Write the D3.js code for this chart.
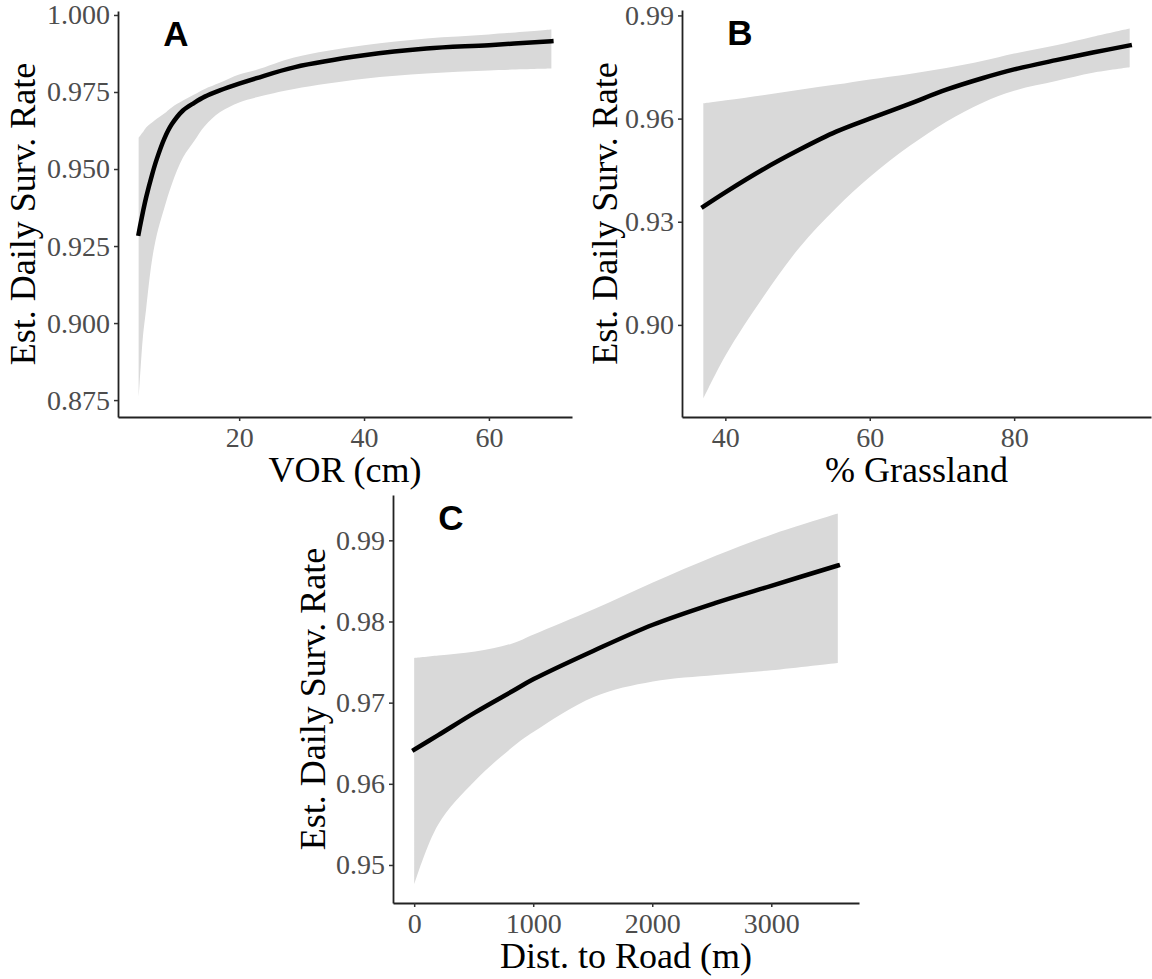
<!DOCTYPE html>
<html>
<head>
<meta charset="utf-8">
<script src="https://cdn.jsdelivr.net/npm/d3@7"></script>
<style>
  body { margin: 0; background: #fff; }
  svg { display: block; }
  .tick text { font-family: "Liberation Serif", "Times New Roman", serif; font-size: 28px; fill: #4d4d4d; }
  .tick line { stroke: #333; stroke-width: 1.5; }
  .domain { stroke: #222; stroke-width: 1.8; }
  .title { font-family: "Liberation Serif", "Times New Roman", serif; font-size: 36px; fill: #000; }
  .tag { font-family: "Liberation Sans", Arial, sans-serif; font-weight: bold; font-size: 35px; fill: #000; }
</style>
</head>
<body>
<div id="chart"></div>
<script>
// A - visual obstruction reading
const vorX   = [3.9, 4.2, 4.6, 5.1, 6.0, 6.8, 8.0, 9.2, 11, 12.8, 14.5, 16.9, 20, 22.8, 28.8, 40, 50, 60, 70];
const vorFit = [0.929, 0.9322, 0.9362, 0.9408, 0.9478, 0.9532, 0.9598, 0.9645, 0.9690, 0.9715, 0.9735, 0.9755, 0.9777, 0.9795, 0.9830, 0.9869, 0.9891, 0.9902, 0.9915];
const vorLo  = [0.8755, 0.885, 0.8959, 0.9046, 0.9199, 0.9286, 0.9373, 0.9450, 0.9537, 0.9591, 0.9640, 0.9684, 0.9716, 0.9733, 0.9760, 0.9793, 0.9810, 0.9820, 0.9826];
const vorHi  = [0.9602, 0.9610, 0.9620, 0.9635, 0.9650, 0.9663, 0.9680, 0.9700, 0.9722, 0.9742, 0.9760, 0.9780, 0.9807, 0.9822, 0.9862, 0.9902, 0.9924, 0.9937, 0.9953];
const vorXTicks = [20, 40, 60];
const vorYTicks = [0.875, 0.900, 0.925, 0.950, 0.975, 1.000];

// B - percent grassland
const grassX   = [36.95, 40.1, 45.2, 50.3, 55.35, 60, 65.5, 70.6, 75.7, 80, 85.8, 90.9, 96.0];
const grassFit = [0.9344, 0.9387, 0.9452, 0.9510, 0.9562, 0.9600, 0.9643, 0.9684, 0.9718, 0.9743, 0.9770, 0.9792, 0.9813];
const grassLo  = [0.8786, 0.8914, 0.9080, 0.9226, 0.9340, 0.9430, 0.9520, 0.9591, 0.9647, 0.9681, 0.9709, 0.9733, 0.9749];
const grassHi  = [0.9644, 0.9653, 0.9668, 0.9684, 0.9699, 0.9714, 0.9730, 0.9747, 0.9768, 0.9789, 0.9813, 0.9838, 0.9862];
const grassXTicks = [40, 60, 80];
const grassYTicks = [0.90, 0.93, 0.96, 0.99];

// C - distance to road
const roadX   = [0, 202, 513, 824, 1004, 1508, 2005, 2533, 3000, 3559];
const roadFit = [0.9642, 0.9660, 0.9688, 0.9714, 0.9729, 0.9764, 0.9796, 0.9823, 0.9844, 0.9869];
const roadLo  = [0.9476, 0.9550, 0.9604, 0.9645, 0.9664, 0.9707, 0.9726, 0.9734, 0.9740, 0.9749];
const roadHi  = [0.9755, 0.9758, 0.9763, 0.9773, 0.9784, 0.9815, 0.9848, 0.9881, 0.9907, 0.9933];
const roadXTicks = [0, 1000, 2000, 3000];
const roadYTicks = [0.95, 0.96, 0.97, 0.98, 0.99];

const yTitle = 'Est. Daily Surv. Rate';

var svg = d3.select('#chart')
    .append('svg')
    .attr('width', 1152)
    .attr('height', 979);

// ggplot-like 5% expansion
function expand(values) {
    var e = d3.extent(values);
    var pad = (e[1] - e[0]) * 0.05;
    return [e[0] - pad, e[1] + pad];
}

function panel(p) {
    var rows = p.xs.map((x, i) => ({ x: x, fit: p.fit[i], lo: p.lo[i], hi: p.hi[i] }));

    var x = d3.scaleLinear()
        .domain(expand(p.xs))
        .range([p.left, p.right]);
    var y = d3.scaleLinear()
        .domain(expand(p.lo.concat(p.hi)))
        .range([p.bottom, p.top]);

    var g = svg.append('g');

    var ribbon = d3.area()
        .x(d => x(d.x))
        .y0(d => y(d.lo))
        .y1(d => y(d.hi))
        .curve(d3.curveCatmullRom);
    g.append('path')
        .attr('d', ribbon(rows))
        .style('fill', '#d9d9d9');

    var line = d3.line()
        .x(d => x(d.x))
        .y(d => y(d.fit))
        .curve(d3.curveCatmullRom);
    g.append('path')
        .attr('d', line(rows))
        .style('fill', 'none')
        .style('stroke', '#000')
        .style('stroke-width', 4.5)
        .style('stroke-linecap', 'square');

    g.append('g')
        .attr('transform', `translate(0,${p.bottom})`)
        .call(d3.axisBottom(x).tickValues(p.xTicks).tickFormat(d3.format('d'))
            .tickSize(4).tickSizeOuter(0).tickPadding(6));
    g.append('g')
        .attr('transform', `translate(${p.left},0)`)
        .call(d3.axisLeft(y).tickValues(p.yTicks).tickFormat(d3.format(p.yFmt))
            .tickSize(4).tickSizeOuter(0).tickPadding(4));

    g.append('text')
        .classed('title', true)
        .attr('x', (p.left + p.right) / 2)
        .attr('y', p.bottom + 65)
        .attr('text-anchor', 'middle')
        .text(p.xTitle);
    g.append('text')
        .classed('title', true)
        .attr('transform', `translate(${p.left - p.yTitleOff},${(p.top + p.bottom) / 2}) rotate(-90)`)
        .attr('text-anchor', 'middle')
        .text(yTitle);

    g.append('text')
        .classed('tag', true)
        .attr('x', p.left + 58)
        .attr('y', p.top + 35)
        .attr('text-anchor', 'middle')
        .text(p.tag);
}

panel({
    xs: vorX, fit: vorFit, lo: vorLo, hi: vorHi,
    xTicks: vorXTicks, yTicks: vorYTicks, yFmt: '.3f',
    left: 118, right: 572, top: 11, bottom: 417,
    xTitle: 'VOR (cm)', yTitleOff: 83, tag: 'A'
});
panel({
    xs: grassX, fit: grassFit, lo: grassLo, hi: grassHi,
    xTicks: grassXTicks, yTicks: grassYTicks, yFmt: '.2f',
    left: 682, right: 1151, top: 10, bottom: 417,
    xTitle: '% Grassland', yTitleOff: 65, tag: 'B'
});
panel({
    xs: roadX, fit: roadFit, lo: roadLo, hi: roadHi,
    xTicks: roadXTicks, yTicks: roadYTicks, yFmt: '.2f',
    left: 393, right: 859, top: 495, bottom: 903,
    xTitle: 'Dist. to Road (m)', yTitleOff: 68, tag: 'C'
});
</script>
</body>
</html>
